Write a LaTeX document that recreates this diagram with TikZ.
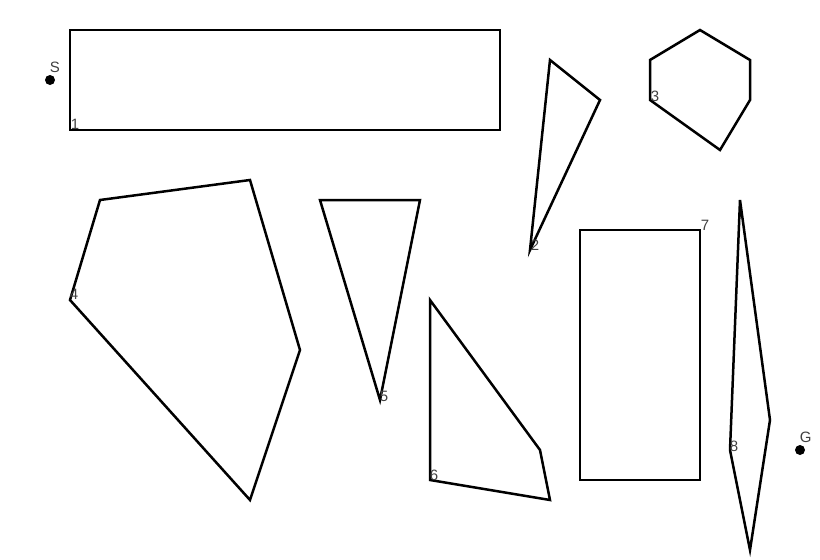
\documentclass[tikz,border=0pt]{standalone}
\usepackage{fontspec}
\setmainfont{Liberation Sans}
\begin{document}
\begin{tikzpicture}[x=1pt,y=-1pt,
  poly/.style={draw=black,line width=2.5pt,line join=miter},
  lbl/.style={anchor=south west,inner sep=0.6pt,font=\fontsize{15}{15}\selectfont,text=black!75},
  pt/.style={circle,fill=black,inner sep=0pt,minimum size=10pt}]
\useasboundingbox (0,0) rectangle (820,560);
% 1
\draw[poly] (70,30) rectangle (500,130);
\node[lbl] (l1) at (70,130) {1};
% 2
\draw[poly] (550,60) -- (600,100) -- (530,250) -- cycle;
\node[lbl] (l2) at (530,251) {2};
% 3
\draw[poly] (700,30) -- (750,60) -- (750,100) -- (720,150) -- (650,100) -- (650,60) -- cycle;
\node[lbl] (l3) at (650,102) {3};
% 4
\draw[poly] (100,200) -- (250,180) -- (300,350) -- (250,500) -- (70,300) -- cycle;
\node[lbl] (l4) at (69,300) {4};
% 5
\draw[poly] (320,200) -- (420,200) -- (380,400) -- cycle;
\node[lbl] (l5) at (379,402) {5};
% 6
\draw[poly] (430,300) -- (540,450) -- (550,500) -- (430,480) -- cycle;
\node[lbl] (l6) at (429,481) {6};
% 7
\draw[poly] (580,230) rectangle (700,480);
\node[lbl] (l7) at (700,231) {7};
% 8
\draw[poly] (740,200) -- (770,420) -- (750,550) -- (730,450) -- cycle;
\node[lbl] (l8) at (729,452) {8};
% S and G
\node[pt] (S) at (50,80) {};
\node[lbl] (Slbl) at (49,73) {S};
\node[pt] (G) at (800,450) {};
\node[lbl] (Glbl) at (799,443) {G};
\end{tikzpicture}
\end{document}
